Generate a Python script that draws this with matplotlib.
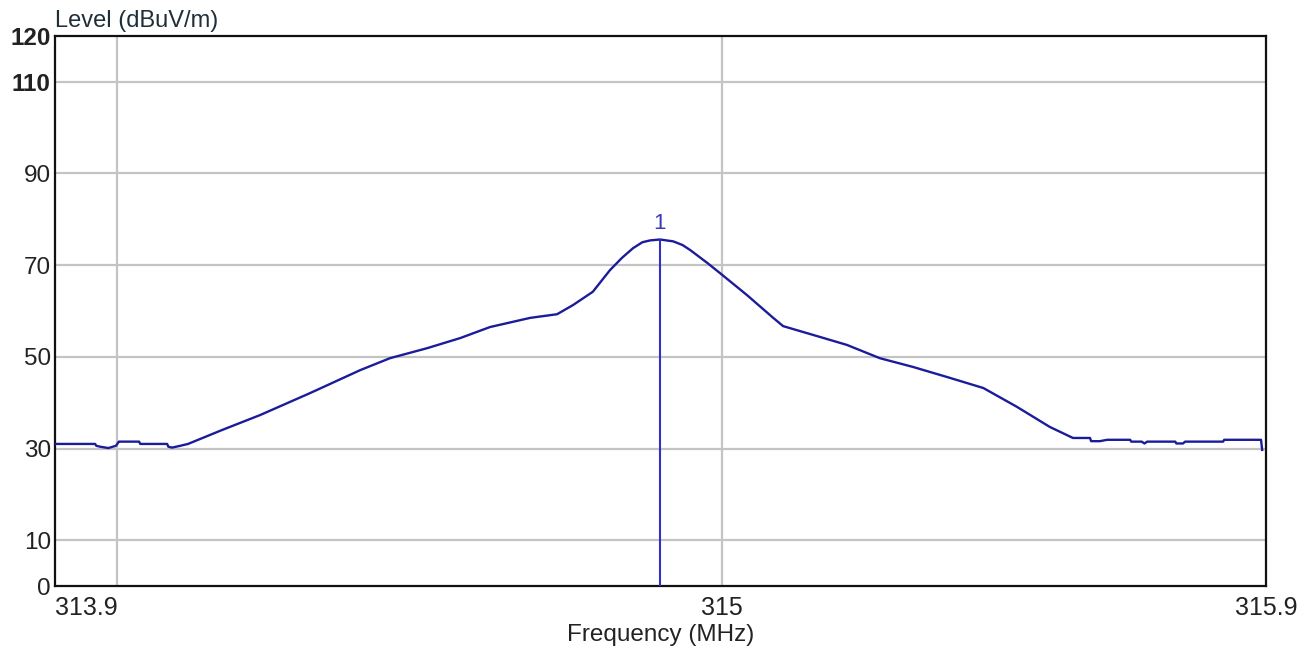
import matplotlib.pyplot as plt
from matplotlib.transforms import ScaledTranslation

plt.rcParams['font.family'] = ['Liberation Sans', 'DejaVu Sans']

# measured trace, frequency in MHz and level in dBuV/m
freq = [313.787, 313.860, 313.862, 313.869, 313.884, 313.898, 313.903, 313.905,
        313.940, 313.942, 313.945, 313.991, 313.993, 314.000, 314.015, 314.029,
        314.090, 314.160, 314.251, 314.342, 314.396, 314.464, 314.524, 314.578,
        314.651, 314.700, 314.729, 314.765, 314.796, 314.818, 314.838, 314.855,
        314.869, 314.887, 314.911, 314.928, 314.942, 314.973, 315.000, 315.045,
        315.093, 315.111, 315.165, 315.227, 315.287, 315.347, 315.409, 315.475,
        315.536, 315.596, 315.638, 315.669, 315.671, 315.687, 315.700, 315.742,
        315.744, 315.763, 315.768, 315.773, 315.824, 315.826, 315.838, 315.842,
        315.911, 315.913, 315.980, 315.982]
level = [31.0, 31.0, 30.6, 30.4, 30.1, 30.6, 31.5, 31.5,
         31.5, 31.0, 31.0, 31.0, 30.4, 30.2, 30.6, 31.0,
         34.0, 37.3, 42.1, 47.1, 49.7, 51.9, 54.1, 56.5,
         58.5, 59.3, 61.3, 64.2, 68.9, 71.6, 73.7, 75.0,
         75.4, 75.6, 75.2, 74.4, 73.3, 70.5, 67.9, 63.5,
         58.5, 56.7, 54.8, 52.6, 49.7, 47.8, 45.6, 43.2,
         39.1, 34.7, 32.3, 32.3, 31.6, 31.6, 31.9, 31.9,
         31.5, 31.5, 31.1, 31.5, 31.5, 31.1, 31.1, 31.5,
         31.5, 31.9, 31.9, 29.7]

marker_freq = 314.887
marker_level = 75.6

x_start, x_stop = 313.787, 315.989
x_ticks = [313.9, 315, x_stop]
x_labels = ['313.9', '315', '315.9']
y_ticks = [0, 10, 30, 50, 70, 90, 110, 120]
y_grid = [10, 30, 50, 70, 90, 110]

fig = plt.figure(figsize=(13.03, 6.52), dpi=100)
ax = fig.add_axes([0.0422, 0.1012, 0.9294, 0.8436])

for y in y_grid:
    ax.axhline(y, color='#c4c4c4', lw=1.6, zorder=1)
for x in x_ticks[:2]:
    ax.axvline(x, color='#c4c4c4', lw=1.6, zorder=1)

ax.plot(freq, level, color='#1c1c9a', lw=1.7, zorder=3)

# marker 1 at the peak
ax.plot([marker_freq, marker_freq], [0, marker_level], color='#3030c8', lw=1.5, zorder=4)
ax.text(marker_freq, marker_level + 1.2, '1', color='#3a3ab8', fontsize=16,
        ha='center', va='bottom')

ax.set_xlim(x_start, x_stop)
ax.set_ylim(0, 120)
ax.set_xticks(x_ticks)
xlabels = ax.set_xticklabels(x_labels, fontsize=18, color='#222222')
ax.set_yticks(y_ticks)
ylabels = ax.set_yticklabels([str(v) for v in y_ticks], fontsize=17.5, color='#222222')
for t in ylabels[-2:]:
    t.set_fontweight('bold')
xlabels[0].set_horizontalalignment('right')
xlabels[-1].set_transform(xlabels[-1].get_transform()
                          + ScaledTranslation(-0.12, 0, fig.dpi_scale_trans))
ax.tick_params(axis='both', length=0)
ax.tick_params(axis='x', pad=7)
ax.tick_params(axis='y', pad=3)

for s in ax.spines.values():
    s.set_linewidth(1.6)
    s.set_color('#111111')

ax.set_xlabel('Frequency (MHz)', fontsize=17.5, color='#222222', labelpad=3)
ax.text(0.0, 1.008, 'Level (dBuV/m)', transform=ax.transAxes, fontsize=17,
        color='#1f2f3a', ha='left', va='bottom')

fig.savefig('out.png', dpi=100)
